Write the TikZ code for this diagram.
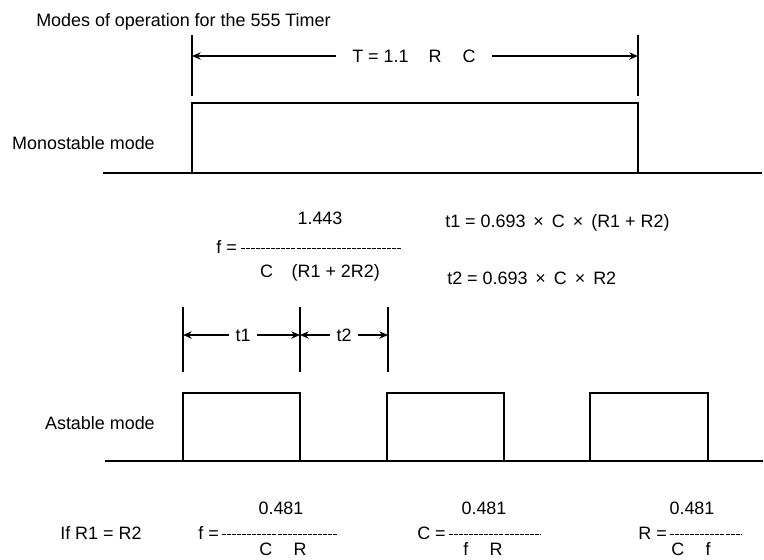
\documentclass[tikz,border=0pt]{standalone}
\usepackage{fontspec}
\setmainfont{Liberation Sans}
\usetikzlibrary{arrows.meta,positioning}

\begin{document}
\begin{tikzpicture}[
    x=0.02646cm, y=-0.02646cm,
    txt/.style={font=\fontsize{13.5}{15}\selectfont, inner sep=0pt},
    dimlbl/.style={txt, inner xsep=5pt},
    pulse/.style={line width=2.2pt},
    baseline/.style={line width=1pt},
    marker/.style={line width=0.9pt},
    dim/.style={line width=1.5pt, -{Stealth[length=6.5pt,width=5.5pt]}},
    fracline/.style={line width=0.7pt, dash pattern=on 3pt off 0.8pt}
]
\useasboundingbox (0,0) rectangle (764,559);

% title
\node[txt, anchor=west] (title) at (36,22) {Modes of operation for the 555 Timer};

% monostable
\node[txt, anchor=east] (mono) at (155,143) {Monostable mode};
\draw[marker] (192,35) -- (192,96);
\draw[marker] (638,35) -- (638,96);
\coordinate (monoL) at (192,56);
\coordinate (monoR) at (638,56);
\node[dimlbl, inner xsep=12pt] (tlabel) at (414,56) {T = 1.1\hspace{15pt}R\hspace{16pt}C};
\draw[dim] (tlabel) -- (monoL);
\draw[dim] (tlabel) -- (monoR);
\draw[baseline] (103,173) -- (762,173);
\draw[pulse] (192,173) -- (192,103) -- (638,103) -- (638,173);

% frequency and times
\node[txt] (fnum) at (320,218) {1.443};
\node[txt, anchor=east] (feq) at (237,247) {f =};
\draw[fracline] (241,248) -- (401,248);
\node[txt] (fden) at (320,273) {C\hspace{14pt}(R1 + 2R2)};
\node[txt, anchor=west] (tone) at (445,223) {t1 = 0.693 \,×\, C \,×\, (R1 + R2)};
\node[txt, anchor=west] (ttwo) at (447,278) {t2 = 0.693 \,×\, C \,×\, R2};

% astable
\node[txt, anchor=east] (astable) at (155,423) {Astable mode};
\draw[marker] (183,307) -- (183,372);
\draw[marker] (300,307) -- (300,372);
\draw[marker] (388,307) -- (388,372);
\coordinate (astA) at (183,335);
\coordinate (astB) at (300,335);
\coordinate (astC) at (388,335);
\node[dimlbl] (tonelbl) at (243,335) {t1};
\node[dimlbl] (ttwolbl) at (344,335) {t2};
\draw[dim] (tonelbl) -- (astA);
\draw[dim] (tonelbl) -- (astB);
\draw[dim] (ttwolbl) -- (astB);
\draw[dim] (ttwolbl) -- (astC);
\draw[baseline] (105,461) -- (763,461);
\draw[pulse] (183,461) -- (183,393) -- (300,393) -- (300,461);
\draw[pulse] (387,461) -- (387,393) -- (504,393) -- (504,461);
\draw[pulse] (590,461) -- (590,393) -- (708,393) -- (708,461);

% equal resistors
\node[txt, anchor=west] (equal) at (60,533) {If R1 = R2};
\node[txt] (fnumb) at (281,508) {0.481};
\node[txt, anchor=east] (feqb) at (219,533) {f =};
\draw[fracline] (222,534) -- (337,534);
\node[txt] (fdenb) at (283,549) {C\hspace{16pt}R};

\node[txt] (cnum) at (484,508) {0.481};
\node[txt, anchor=east] (ceq) at (446,533) {C =};
\draw[fracline] (449,534) -- (541,534);
\node[txt] (cden) at (483,549) {f\hspace{16pt}R};

\node[txt] (rnum) at (692,508) {0.481};
\node[txt, anchor=east] (req) at (667,533) {R =};
\draw[fracline] (670,534) -- (742,534);
\node[txt] (rden) at (691,549) {C\hspace{16pt}f};
\end{tikzpicture}
\end{document}
